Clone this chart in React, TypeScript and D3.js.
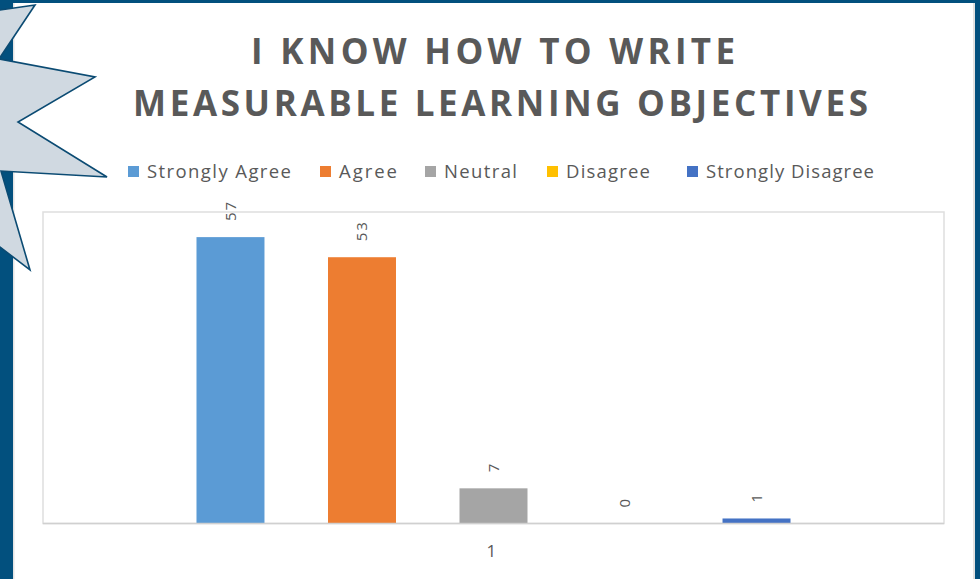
import React from "react";
import * as d3 from "d3";

// ---- data ----
const categories: string[] = ["1"];
const seriesNames: string[] = ["Strongly Agree", "Agree", "Neutral", "Disagree", "Strongly Disagree"];
const seriesValues: number[] = [57, 53, 7, 0, 1];
const seriesColors: string[] = ["#5B9BD5", "#ED7D31", "#A5A5A5", "#FFC000", "#4472C4"];
const titleLines: string[] = ["I KNOW HOW TO WRITE", "MEASURABLE LEARNING OBJECTIVES"];

// ---- layout ----
const W = 980;
const H = 579;
const plot = { left: 43, right: 944, top: 212, bottom: 523.5 };
const legendX = [128, 320, 425, 547, 687];
const legendTextW = [144, 58, 73, 84, 168];
const titleLayout = [
  { x: 251, y: 64, w: 484 },
  { x: 133, y: 116, w: 735 },
];
const starPts: [number, number][] = [
  [-40, 10], [0, 10], [35, 5], [-1, 59], [95, 77], [18, 122], [107, 177],
  [1, 171], [30, 270], [0, 247], [-40, 247],
];
const textColor = "#595959";
const font = "'Open Sans', 'Liberation Sans', sans-serif";

export default function App() {
  const x0 = d3
    .scaleBand<string>()
    .domain(categories)
    .range([plot.left, plot.right])
    .paddingInner(0)
    .paddingOuter(0.2584);
  const x1 = d3
    .scaleBand<string>()
    .domain(seriesNames)
    .range([0, x0.bandwidth()])
    .paddingInner(0.483)
    .paddingOuter(0);
  const y = d3.scaleLinear().domain([0, 62]).range([plot.bottom, plot.top]);

  const starPath = d3.line()(starPts) + "Z";

  return (
    <svg
      width={W}
      height={H}
      style={{ position: "absolute", left: 0, top: 0, display: "block" }}
      fontFamily={font}
    >
      <rect x={0} y={0} width={W} height={H} fill="#ffffff" />
      {/* frame */}
      <rect x={0} y={0} width={13} height={H} fill="#02507E" />
      <rect x={0} y={0} width={W} height={3} fill="#02507E" />
      <rect x={975} y={0} width={5} height={H} fill="#02507E" />
      <rect x={13} y={3} width={1.5} height={H} fill="#e4e4e4" />
      <rect x={973} y={3} width={2} height={H} fill="#e2e2e2" />

      {/* title */}
      {titleLines.map((t, i) => (
        <text
          key={i}
          x={titleLayout[i].x}
          y={titleLayout[i].y}
          fontSize={35}
          fontWeight={700}
          fill={textColor}
          textLength={titleLayout[i].w}
          lengthAdjust="spacing"
        >
          {t}
        </text>
      ))}

      {/* legend */}
      {seriesNames.map((s, i) => (
        <g key={s}>
          <rect x={legendX[i]} y={166} width={11} height={11} fill={seriesColors[i]} />
          <text
            x={legendX[i] + 19}
            y={178}
            fontSize={18.5}
            fill={textColor}
            textLength={legendTextW[i]}
            lengthAdjust="spacing"
          >
            {s}
          </text>
        </g>
      ))}

      {/* plot area */}
      <rect
        x={plot.left}
        y={plot.top}
        width={plot.right - plot.left}
        height={plot.bottom - plot.top}
        fill="none"
        stroke="#dedede"
        strokeWidth={1.5}
      />

      {/* bars */}
      {categories.map((c) => (
        <g key={c} transform={`translate(${x0(c)},0)`}>
          {seriesNames.map((s, i) => {
            const bx = x1(s)!;
            const by = y(seriesValues[i]);
            const cx = bx + x1.bandwidth() / 2;
            return (
              <g key={s}>
                <rect
                  x={bx}
                  y={by}
                  width={x1.bandwidth()}
                  height={Math.max(0, y(0) - by)}
                  fill={seriesColors[i]}
                />
                <text
                  transform={`translate(${cx},${by - 16}) rotate(-90)`}
                  dy="0.35em"
                  fontSize={15}
                  letterSpacing={2}
                  fill={textColor}
                  textAnchor="start"
                >
                  {seriesValues[i]}
                </text>
              </g>
            );
          })}
          <text
            x={x0.bandwidth() / 2 - 2}
            y={557}
            fontSize={17}
            fill={textColor}
            textAnchor="middle"
          >
            {c}
          </text>
        </g>
      ))}

      {/* axis line */}
      <line
        x1={plot.left}
        x2={plot.right}
        y1={y(0)}
        y2={y(0)}
        stroke="#d0d0d0"
        strokeWidth={1.5}
      />

      {/* star callout */}
      <path d={starPath} fill="#D0D9E1" stroke="#0B4B73" strokeWidth={1.6} strokeLinejoin="miter" />
    </svg>
  );
}
